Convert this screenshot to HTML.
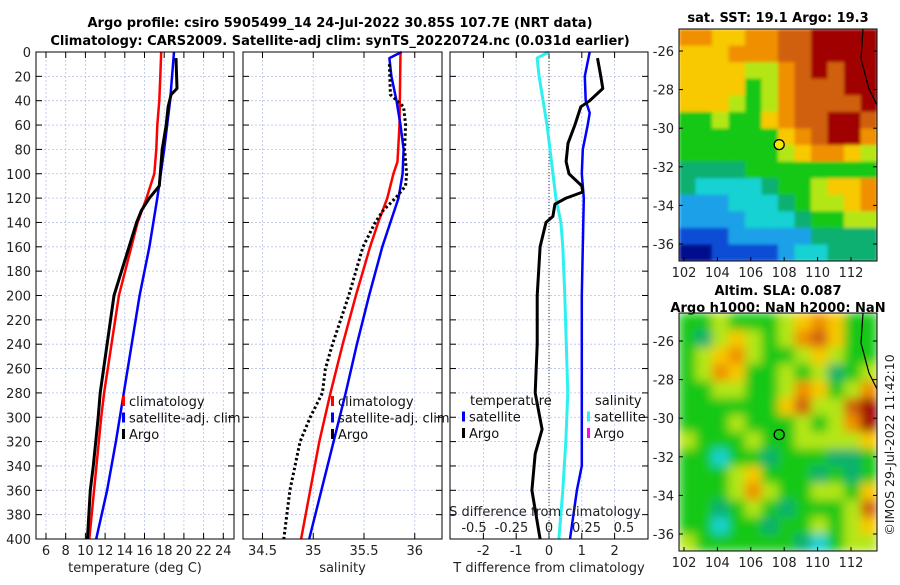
<!DOCTYPE html>
<html><head><meta charset="utf-8"><style>
body{margin:0;background:#fff;}
svg{font-family:"DejaVu Sans","Liberation Sans",sans-serif;}
</style></head><body>
<svg id="fig" width="900" height="580" viewBox="0 0 900 580" xmlns="http://www.w3.org/2000/svg">
<defs>
<filter id="blur" x="0" y="0" width="1" height="1"><feGaussianBlur stdDeviation="5" edgeMode="duplicate"/></filter>
<filter id="blur2" x="0" y="0" width="1" height="1"><feGaussianBlur stdDeviation="1.5" edgeMode="duplicate"/></filter>
<clipPath id="clipSla"><rect x="679" y="313" width="198" height="238"/></clipPath>
<clipPath id="clipSst"><rect x="679" y="29" width="198" height="232"/></clipPath>
</defs>
<text x="340" y="27" text-anchor="middle" font-size="13" font-weight="bold">Argo profile: csiro 5905499_14 24-Jul-2022 30.85S 107.7E (NRT data)</text>
<text x="340" y="45" text-anchor="middle" font-size="13" font-weight="bold">Climatology: CARS2009. Satellite-adj clim: synTS_20220724.nc (0.031d earlier)</text>
<text x="778" y="22" text-anchor="middle" font-size="13" font-weight="bold">sat. SST: 19.1 Argo: 19.3</text>
<text x="778" y="295" text-anchor="middle" font-size="13" font-weight="bold">Altim. SLA: 0.087</text>
<text x="778" y="312" text-anchor="middle" font-size="13" font-weight="bold">Argo h1000: NaN h2000: NaN</text>
<text transform="translate(894,445) rotate(-90)" text-anchor="middle" font-size="12.5" fill="#222">©IMOS 29-Jul-2022 11:42:10</text>
<g id="g"></g>
</svg>
<script>
// ---- profile data ----
var tDepthClim = [0,20,40,60,80,100,110,120,140,200,280,300,400];
var tClim = [17.7,17.6,17.5,17.3,17.2,17.0,16.6,16.2,15.3,13.4,11.9,11.6,10.4];
var tDepthSat = [0,40,80,120,160,200,240,280,320,360,400];
var tSat = [19.0,18.6,18.0,17.3,16.5,15.5,14.7,13.9,13.1,12.2,11.1];
var tDepthArgo = [5,30,35,45,60,80,100,110,120,130,140,200,280,300,340,360,400];
var tArgo = [19.2,19.3,18.7,18.4,18.2,17.8,17.6,17.5,16.5,15.7,15.2,12.9,11.5,11.3,10.8,10.5,10.2];
var sDepthClim = [0,60,90,100,120,140,160,200,240,280,320,360,400];
var sClim = [35.86,35.85,35.83,35.79,35.73,35.64,35.56,35.42,35.29,35.17,35.06,34.97,34.88];
var sDepthSat = [0,5,20,40,60,80,100,120,140,160,200,240,280,320,360,400];
var sSat = [35.87,35.75,35.77,35.82,35.86,35.89,35.88,35.84,35.76,35.68,35.55,35.43,35.32,35.20,35.08,34.96];
var sDepthArgo = [10,35,45,60,80,100,110,120,130,140,160,200,240,260,280,300,320,360,400];
var sArgo = [35.75,35.76,35.89,35.91,35.90,35.92,35.91,35.81,35.69,35.61,35.49,35.35,35.19,35.12,35.09,34.97,34.87,34.77,34.71];
var dDepthS = [0,5,20,40,60,80,120,140,160,200,280,320,360,400];
var dSsat = [0,-0.079,-0.066,-0.039,-0.013,0.007,0.046,0.079,0.092,0.105,0.125,0.112,0.092,0.066];
var dDepthT = [0,20,40,50,60,80,100,120,200,300,340,360,400];
var dTsat = [1.24,1.09,1.12,1.24,1.18,1.03,1.0,1.06,1.0,1.0,1.0,0.85,0.64];
var dDepthTA = [5,20,30,40,45,60,75,90,100,110,115,120,125,135,140,160,200,240,280,310,330,360,400];
var dTargo = [1.48,1.58,1.64,1.24,0.97,0.79,0.58,0.52,0.61,1.0,1.03,0.52,0.18,0.12,-0.09,-0.27,-0.36,-0.36,-0.42,-0.21,-0.42,-0.52,-0.27];
var depthTicks = [0,20,40,60,80,100,120,140,160,180,200,220,240,260,280,300,320,340,360,380,400];
var tTicks = [6,8,10,12,14,16,18,20,22,24];
var sTicks = [34.5,35,35.5,36];
var dTTicks = [-2,-1,0,1,2];
var dSTicks = [-0.5,-0.25,0,0.25,0.5];
var dSTickLabels = ["-0.5","-0.25","0","0.25","0.5"];
// ---- map data (colour level 0..10) ----
var lonTicks = [102,104,106,108,110,112];
var latTicks = [-26,-28,-30,-32,-34,-36];
var sstGrid = [
[8,8,7,7,8,8,9,9,10,10,10,10],
[7,7,7,8,8,8,9,9,10,10,10,10],
[7,7,7,7,6,6,8,9,10,9,10,10],
[7,7,7,7,5,6,8,9,9,9,10,10],
[7,7,7,6,5,6,8,9,9,9,9,10],
[5,5,6,5,5,7,8,9,9,10,10,9],
[5,5,5,5,5,5,7,8,9,10,10,8],
[5,5,5,5,5,5,6,7,8,8,7,6],
[4,4,4,4,5,5,5,5,5,5,5,5],
[4,3,3,3,3,4,5,5,6,7,7,8],
[2,2,2,3,3,3,4,5,6,6,7,8],
[2,2,2,2,3,3,3,4,5,5,6,6],
[1,1,1,2,2,2,2,2,4,4,4,4],
[0,0,1,1,1,1,2,3,3,4,4,4]];
var slaGrid = [
[5,5,6,5,5,5,6,7,8,7,5,5],
[5,4,6,7,6,5,6,8,9,7,5,5],
[5,6,7,8,6,5,5,6,7,6,5,5],
[5,6,8,7,5,5,6,5,6,4,5,6],
[5,5,6,6,5,5,6,8,7,5,6,8],
[5,5,5,5,5,5,7,9,6,6,9,10],
[5,5,5,6,5,5,5,6,5,6,8,10],
[6,5,5,5,6,5,5,6,6,6,6,7],
[5,5,3,5,5,4,5,5,5,4,4,5],
[5,5,5,6,7,5,5,5,4,5,4,5],
[5,5,5,6,8,6,5,5,6,6,5,7],
[5,5,4,5,6,5,4,5,5,5,6,9],
[5,5,3,5,5,4,5,5,6,5,6,7],
[6,5,5,5,5,5,5,4,3,5,6,6]];
var palette = ["#00108c","#0a4ed6","#1aa0e8","#14d2d2","#10b070","#14c814","#b4e614","#f8c800","#f09000","#d06010","#a00000"];
var argoLon = 107.7, argoLat = -30.85;

var NS="http://www.w3.org/2000/svg", G=document.getElementById('g');
function el(tag,attrs,parent){var e=document.createElementNS(NS,tag);for(var k in attrs)e.setAttribute(k,attrs[k]);(parent||G).appendChild(e);return e;}
var yTop=52, yBot=539;
function yD(d){return yTop+d*(yBot-yTop)/400;}
var panels=[
 {x0:36,x1:234,f:function(t){return 46+(t-6)*9.85;},ticks:tTicks,labels:tTicks.map(String),label:"temperature (deg C)",name:"temperature"},
 {x0:243,x1:442,f:function(s){return 262.5+(s-34.5)*101.5;},ticks:sTicks,labels:["34.5","35","35.5","36"],label:"salinity",name:"salinity"},
 {x0:450,x1:648,f:function(t){return 549+t*32.8;},ticks:dTTicks,labels:dTTicks.map(String),label:"T difference from climatology",name:"difference"}];
function fS(s){return 549+s*150;}
panels.forEach(function(p,pi){
  var pg=el('g',{});
  
  
  depthTicks.forEach(function(d){
    var l=el('line',{x1:p.x0,x2:p.x1,y1:yD(d),y2:yD(d),stroke:'#b8c0e8','stroke-width':0.8,'stroke-dasharray':'2,2'},pg);
    
    
    el('line',{x1:p.x0,x2:p.x0+6,y1:yD(d),y2:yD(d),stroke:'#000'},pg);
    el('line',{x1:p.x1,x2:p.x1-6,y1:yD(d),y2:yD(d),stroke:'#000'},pg);
    if(pi==0){var t=el('text',{x:31,y:yD(d)+5,'text-anchor':'end','font-size':13,fill:'#222'},pg);t.textContent=d;
      
      }
  });
  p.ticks.forEach(function(v,i){
    var x=p.f(v);
    el('line',{x1:x,x2:x,y1:yTop,y2:yBot,stroke:'#b8c0e8','stroke-width':0.8,'stroke-dasharray':'2,2'},pg);
    el('line',{x1:x,x2:x,y1:yBot,y2:yBot-6,stroke:'#000'},pg);
    el('line',{x1:x,x2:x,y1:yTop,y2:yTop+6,stroke:'#000'},pg);
    var t=el('text',{x:x,y:555,'text-anchor':'middle','font-size':13,fill:'#222'},pg);t.textContent=p.labels[i];
    
    
  });
  var t=el('text',{x:(p.x0+p.x1)/2,y:572,'text-anchor':'middle','font-size':13,fill:'#222'},pg);t.textContent=p.label;
  
  
  p.g=pg;
});
function line(g,xs,ds,f,col,w,dash,name){
  var pts=xs.map(function(v,i){return f(v).toFixed(1)+','+yD(ds[i]).toFixed(1);}).join(' ');
  var a={points:pts,fill:'none',stroke:col,'stroke-width':w,'stroke-linejoin':'round'};
  if(dash)a['stroke-dasharray']=dash;
  var e=el('polyline',a,g);
  
  
}
var P=panels;
line(P[0].g,tClim,tDepthClim,P[0].f,'#f00',2.5,null,'temp-climatology-line');
line(P[0].g,tSat,tDepthSat,P[0].f,'#00f',2.5,null,'temp-satellite-line');
line(P[0].g,tArgo,tDepthArgo,P[0].f,'#000',3,null,'temp-argo-line');
line(P[1].g,sClim,sDepthClim,P[1].f,'#f00',2.5,null,'sal-climatology-line');
line(P[1].g,sSat,sDepthSat,P[1].f,'#00f',2.5,null,'sal-satellite-line');
line(P[1].g,sArgo,sDepthArgo,P[1].f,'#000',3,'2.5,2.5','sal-argo-line');
el('line',{x1:549,x2:549,y1:yTop,y2:yBot,stroke:'#333','stroke-width':1,'stroke-dasharray':'1,2'},P[2].g);
line(P[2].g,dSsat,dDepthS,fS,'#2ef0f0',3,null,'sal-diff-satellite-line');
line(P[2].g,dTsat,dDepthT,P[2].f,'#00f',2.5,null,'temp-diff-satellite-line');
line(P[2].g,dTargo,dDepthTA,P[2].f,'#000',3,null,'temp-diff-argo-line');
var st=el('text',{x:545,y:516,'text-anchor':'middle','font-size':13,fill:'#222'},P[2].g);st.textContent='S difference from climatology';


dSTicks.forEach(function(v,i){var t=el('text',{x:fS(v),y:532,'text-anchor':'middle','font-size':13,fill:'#222'},P[2].g);t.textContent=dSTickLabels[i];
  
  });
panels.forEach(function(p){var r=el('rect',{x:p.x0,y:yTop,width:p.x1-p.x0,height:yBot-yTop,fill:'none',stroke:'#000','stroke-width':1},p.g);
  
  });
function leg(x,y,col,txt,nm){var g=el('g',{});
  
  
  if(col)el('rect',{x:x,y:y-10,width:3,height:10,fill:col},g);
  var t=el('text',{x:x+(col?7:0),y:y,'font-size':13,fill:'#111'},g);t.textContent=txt;}
[[122,'#f00','climatology'],[122,'#00f','satellite-adj. clim'],[122,'#000','Argo']].forEach(function(a,i){leg(a[0],406+i*16.5,a[1],a[2],'legend-entry');});
[[331,'#f00','climatology'],[331,'#00f','satellite-adj. clim'],[331,'#000','Argo']].forEach(function(a,i){leg(a[0],406+i*16.5,a[1],a[2],'legend-entry');});
leg(470,405,null,'temperature','legend-title');
leg(462,421.5,'#00f','satellite','legend-entry');
leg(462,438,'#000','Argo','legend-entry');
leg(595,405,null,'salinity','legend-title');
leg(587,421.5,'#2ef0f0','satellite','legend-entry');
leg(587,438,'#f0f','Argo','legend-entry');
function map(grid,x0,y0,w,h,latAt,nm,filt,clip){
  var g=el('g',{});
  
  
  var cg=el('g',{'clip-path':'url(#'+clip+')'},g);
  var cells=el('g',{filter:'url(#'+filt+')'},cg);
  var rows=grid.length,cols=grid[0].length,cw=w/cols,ch=h/rows;
  grid.forEach(function(row,r){row.forEach(function(v,c){
    var e=el('rect',{x:(x0+c*cw).toFixed(2),y:(y0+r*ch).toFixed(2),width:(cw+0.6).toFixed(2),height:(ch+0.6).toFixed(2),fill:palette[v]},cells);
    
    
  });});
  function lx(l){return 684+(l-102)*16.7;}
  lonTicks.forEach(function(l){el('line',{x1:lx(l),x2:lx(l),y1:y0+h,y2:y0+h-4,stroke:'#000'},g);
    var t=el('text',{x:lx(l),y:y0+h+16,'text-anchor':'middle','font-size':13,fill:'#222'},g);t.textContent=l;
    
    });
  latTicks.forEach(function(l){var y=latAt(l);el('line',{x1:x0,x2:x0+4,y1:y,y2:y,stroke:'#000'},g);el('line',{x1:x0+w,x2:x0+w-4,y1:y,y2:y,stroke:'#000'},g);
    var t=el('text',{x:x0-5,y:y+5,'text-anchor':'end','font-size':13,fill:'#222'},g);t.textContent=l;
    
    });
  el('path',{d:'M'+(x0+w-14)+','+y0+' L'+(x0+w-16)+','+(y0+30)+' L'+(x0+w-8)+','+(y0+60)+' L'+(x0+w)+','+(y0+76),fill:'none',stroke:'#000','stroke-width':1.2},g);
  var m=el('circle',{cx:lx(argoLon),cy:latAt(argoLat),r:5,fill:nm=='sst-map'?'#f0e800':'none',stroke:'#000','stroke-width':1.3},g);
  
  
  el('rect',{x:x0,y:y0,width:w,height:h,fill:'none',stroke:'#000'},g);
}
map(sstGrid,679,29,198,232,function(l){return 51+(-26-l)*19.3;},'sst-map','blur2','clipSst');
map(slaGrid,679,313,198,238,function(l){return 341+(-26-l)*19.3;},'sla-map','blur','clipSla');
</script>
</body></html>
